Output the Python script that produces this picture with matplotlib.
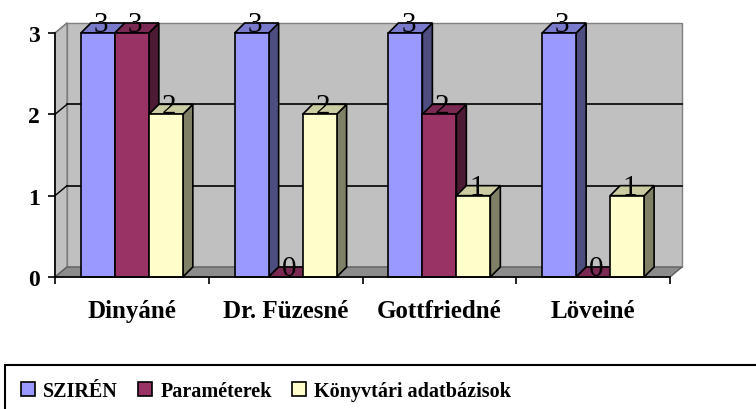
import matplotlib.pyplot as plt
from matplotlib.patches import Polygon, Rectangle, Patch

# chart data
categories = ['Dinyáné', 'Dr. Füzesné', 'Gottfriedné', 'Löveiné']
series = ['SZIRÉN', 'Paraméterek', 'Könyvtári adatbázisok']
sziren = [3, 3, 3, 3]
parameterek = [3, 0, 2, 0]
konyvtari = [2, 2, 1, 1]
values = [sziren, parameterek, konyvtari]
y_ticks = [0, 1, 2, 3]

# colours: front, side, top
front_col = ['#9999FF', '#993366', '#FFFFCC']
side_col = ['#4D4D80', '#4D1A33', '#808066']
top_col = ['#7A7ACC', '#7A2952', '#CCCCA3']

serif = 'Liberation Serif'

fig = plt.figure(figsize=(7.56, 4.10), dpi=100)
ax = fig.add_axes([55 / 756, 132 / 410, 615 / 756, 244 / 410])
ax.set_xlim(-0.5, 3.5)
ax.set_ylim(0, 3)

# 3d depth offsets (data units)
wdx, wdy = 0.078, 0.123   # walls
bdx, bdy = 0.065, 0.123   # bars
bw = 0.221                # bar width

# back wall, side wall, floor
ax.add_patch(Rectangle((-0.5 + wdx, wdy), 4, 3, facecolor='#C0C0C0',
                       edgecolor='#808080', lw=1, clip_on=False, zorder=0))
ax.add_patch(Polygon([(-0.5, 0), (-0.5 + wdx, wdy), (-0.5 + wdx, 3 + wdy), (-0.5, 3)],
                     facecolor='#C0C0C0', edgecolor='#808080', lw=1, clip_on=False, zorder=0))
for v in y_ticks[1:-1]:
    ax.plot([-0.5 + wdx, 3.5 + wdx], [v + wdy, v + wdy], color='black', lw=1.2,
            clip_on=False, zorder=0.5)
for v in y_ticks:
    c = 'black' if 0 < v < 3 else '#808080'
    ax.plot([-0.5, -0.5 + wdx], [v, v + wdy], color=c, lw=1, clip_on=False, zorder=0.5)
ax.add_patch(Polygon([(-0.5, 0), (3.5, 0), (3.5 + wdx, wdy), (-0.5 + wdx, wdy)],
                     facecolor='#8C8C8C', edgecolor='#606060', lw=1, clip_on=False, zorder=0.6))

# bars
z = 1
for ci in range(len(categories)):
    for si in range(len(series)):
        v = values[si][ci]
        x0 = ci + (si - 1.5) * bw
        x1 = x0 + bw
        side = Polygon([(x1, 0), (x1 + bdx, bdy), (x1 + bdx, v + bdy), (x1, v)],
                       facecolor=side_col[si], edgecolor='black', lw=1.2,
                       clip_on=False, zorder=z)
        top = Polygon([(x0, v), (x1, v), (x1 + bdx, v + bdy), (x0 + bdx, v + bdy)],
                      facecolor=top_col[si], edgecolor='black', lw=1.2,
                      clip_on=False, zorder=z)
        ax.add_patch(side)
        ax.add_patch(top)
        if v > 0:
            ax.add_patch(Rectangle((x0, 0), bw, v, facecolor=front_col[si],
                                   edgecolor='black', lw=1.2, clip_on=False, zorder=z))
        ax.text(x0 + bw / 2 + 0.02, v + 0.02, str(v), ha='center', va='baseline',
                fontsize=21, family=serif, color='black', zorder=z + 0.5, clip_on=False)
        z += 1

# axes styling
for s in ['top', 'right']:
    ax.spines[s].set_visible(False)
ax.spines['left'].set_linewidth(1.2)
ax.spines['bottom'].set_linewidth(1.2)
ax.spines['left'].set_zorder(50)
ax.spines['bottom'].set_zorder(50)
ax.set_yticks(y_ticks)
ax.set_yticklabels([str(t) for t in y_ticks], fontsize=17, fontweight='bold', family=serif)
ax.tick_params(axis='y', direction='out', length=5, width=1.2, pad=6)
ax.set_xticks([-0.5, 0.5, 1.5, 2.5, 3.5])
ax.set_xticklabels([])
ax.tick_params(axis='x', which='major', direction='out', length=5, width=1.2)
ax.set_xticks(range(len(categories)), minor=True)
ax.set_xticklabels(categories, minor=True, fontsize=18, fontweight='bold', family=serif)
ax.tick_params(axis='x', which='minor', length=0, pad=16)
ax.set_facecolor('none')

# legend with box cut off by the figure edge
fig.patches.append(Rectangle((5 / 756, -0.1), 1.0, 0.1 + 44 / 410, transform=fig.transFigure,
                             facecolor='none', edgecolor='black', lw=1.5, clip_on=False))
handles = [Patch(facecolor=front_col[i], edgecolor='black', lw=1.2) for i in range(3)]
fig.legend(handles, series, loc='center left', bbox_to_anchor=(13 / 756, 1 - 392 / 410),
           ncol=3, frameon=False, handlelength=0.7, handleheight=0.7, handletextpad=0.4,
           columnspacing=1.0, prop={'family': serif, 'weight': 'bold', 'size': 14.5},
           borderaxespad=0)

fig.savefig('out.png', dpi=100)
